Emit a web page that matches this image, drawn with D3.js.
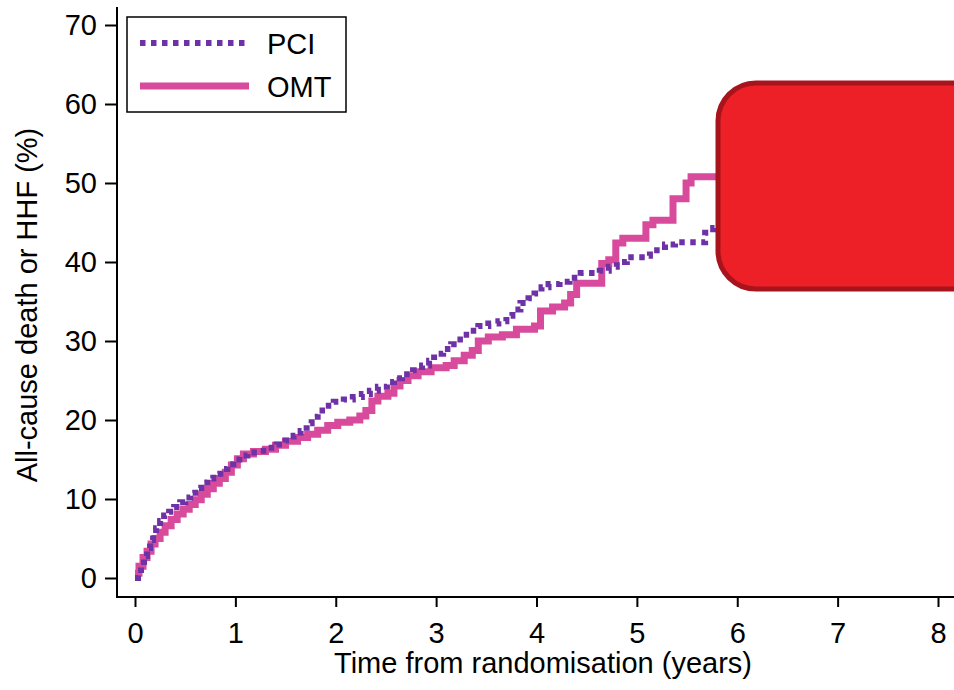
<!DOCTYPE html>
<html lang="en">
<head>
<meta charset="UTF-8">
<title>All-cause death or HHF</title>
<script src="https://d3js.org/d3.v7.min.js"></script>
<style>
    body { margin: 0; background: #fff; }
    svg { display: block; font-family: "Liberation Sans", Arial, sans-serif; }
    .axis text { font-size: 29px; fill: #000; }
    .axis line { stroke: #000; stroke-width: 2px; }
    .axis path { display: none; }
    .axis-title { font-size: 29px; fill: #000; }
    .legend-text { font-size: 29px; fill: #000; }
</style>
</head>
<body>
<script>
// Kaplan-Meier style cumulative incidence
var pciTime = [0, 0.03, 0.06, 0.09, 0.12, 0.15, 0.18, 0.21, 0.25, 0.29, 0.34, 0.39, 0.45, 0.50, 0.55, 0.60,
    0.66, 0.72, 0.78, 0.85, 0.92, 0.98, 1.04, 1.12, 1.22, 1.32, 1.41, 1.50, 1.58, 1.65, 1.71, 1.76, 1.82,
    1.90, 1.98, 2.08, 2.17, 2.26, 2.34, 2.42, 2.51, 2.58, 2.66, 2.77, 2.86, 2.93, 2.98, 3.07, 3.15, 3.21,
    3.27, 3.33, 3.42, 3.52, 3.62, 3.70, 3.76, 3.84, 3.92, 3.98, 4.05, 4.12, 4.23, 4.33, 4.44, 4.63, 4.72,
    4.80, 4.90, 5.08, 5.13, 5.28, 5.38, 5.68, 5.76, 6.00];
var pciValue = [0, 0.5, 1.5, 2.8, 3.8, 4.8, 5.6, 6.3, 7.2, 7.9, 8.4, 9.0, 9.6, 10.2, 10.8, 11.4,
    12.1, 12.6, 13.2, 13.8, 14.4, 15.0, 15.5, 15.9, 16.1, 16.5, 16.9, 17.4, 18.0, 18.6, 19.6, 20.4, 21.2,
    21.8, 22.3, 22.6, 22.9, 23.3, 23.7, 24.2, 24.8, 25.3, 25.8, 26.3, 26.9, 27.5, 28.4, 29.0, 29.6, 30.2,
    30.8, 31.3, 31.9, 32.2, 32.5, 33.2, 34.0, 34.8, 35.4, 36.0, 36.8, 37.2, 37.5, 38.0, 38.6, 38.9, 39.4,
    40.0, 40.6, 40.8, 41.5, 42.2, 42.5, 43.7, 44.3, 44.8];

var omtTime = [0, 0.04, 0.08, 0.12, 0.16, 0.20, 0.25, 0.30, 0.36, 0.42, 0.48, 0.54, 0.60, 0.66, 0.72,
    0.78, 0.84, 0.90, 0.96, 1.02, 1.08, 1.18, 1.30, 1.40, 1.50, 1.62, 1.72, 1.82, 1.92, 2.02, 2.14, 2.24,
    2.30, 2.36, 2.42, 2.52, 2.58, 2.64, 2.72, 2.82, 2.95, 3.10, 3.18, 3.28, 3.36, 3.42, 3.52, 3.66, 3.80,
    3.98, 4.04, 4.16, 4.28, 4.34, 4.40, 4.65, 4.72, 4.79, 4.86, 5.09, 5.16, 5.36, 5.49, 5.54, 5.85];
var omtValue = [0.6, 1.5, 2.6, 3.4, 4.3, 5.0, 5.8, 6.6, 7.4, 8.1, 8.7, 9.3, 9.9, 10.6, 11.3,
    12.0, 12.6, 13.4, 14.3, 15.1, 15.7, 16.0, 16.3, 16.8, 17.3, 17.8, 18.2, 18.7, 19.3, 19.7, 20.0, 20.5,
    21.2, 22.4, 23.0, 23.4, 24.3, 25.0, 25.6, 26.1, 26.6, 26.9, 27.5, 28.2, 28.8, 30.0, 30.5, 30.8, 31.5,
    31.9, 33.8, 34.3, 34.8, 35.9, 37.3, 39.8, 40.3, 42.4, 43.0, 44.7, 45.3, 48.0, 50.0, 50.8, 50.8];

var xTicks = [0, 1, 2, 3, 4, 5, 6, 7, 8];
var yTicks = [0, 10, 20, 30, 40, 50, 60, 70];
var seriesNames = ["PCI", "OMT"];
var seriesColors = ["#6f32a6", "#d84b9c"];

var width = 954, height = 690;

var svg = d3.select("body").append("svg")
    .attr("width", width)
    .attr("height", height);

var x = d3.scaleLinear().domain([0, 8]).range([135, 938]);
var y = d3.scaleLinear().domain([0, 70]).range([578, 25]);

var axisX = 117, axisY = 597;

// axis lines
svg.append("line")
    .attr("x1", axisX).attr("x2", axisX)
    .attr("y1", y(70) - 18).attr("y2", axisY + 1)
    .attr("stroke", "#000").attr("stroke-width", 2);
svg.append("line")
    .attr("x1", axisX - 1).attr("x2", width)
    .attr("y1", axisY).attr("y2", axisY)
    .attr("stroke", "#000").attr("stroke-width", 2);

svg.append("g")
    .attr("class", "axis")
    .attr("transform", "translate(" + axisX + ",0)")
    .call(d3.axisLeft(y).tickValues(yTicks).tickSize(12).tickPadding(8).tickSizeOuter(0));

svg.append("g")
    .attr("class", "axis")
    .attr("transform", "translate(0," + axisY + ")")
    .call(d3.axisBottom(x).tickValues(xTicks).tickSize(10).tickPadding(15).tickSizeOuter(0));

// curves
var line = d3.line()
    .x(function(d) { return x(d[0]); })
    .y(function(d) { return y(d[1]); })
    .curve(d3.curveStepAfter);

var pciData = d3.zip(pciTime, pciValue);
var omtData = d3.zip(omtTime, omtValue);

svg.append("path")
    .datum(omtData)
    .attr("fill", "none")
    .attr("stroke", seriesColors[1])
    .attr("stroke-width", 7)
    .attr("d", line);

svg.append("path")
    .datum(pciData)
    .attr("fill", "none")
    .attr("stroke", seriesColors[0])
    .attr("stroke-width", 6)
    .attr("stroke-dasharray", "5.5,5.5")
    .attr("d", line);

// legend
var legend = svg.append("g").attr("transform", "translate(127,17)");
legend.append("rect")
    .attr("width", 219).attr("height", 95)
    .attr("fill", "#fff").attr("stroke", "#000").attr("stroke-width", 1.5);
seriesNames.forEach(function(name, i) {
    var ly = 26 + i * 43;
    var l = legend.append("line")
        .attr("x1", 13).attr("x2", 122)
        .attr("y1", ly).attr("y2", ly)
        .attr("stroke", seriesColors[i])
        .attr("stroke-width", i === 0 ? 6 : 7);
    if (i === 0) l.attr("stroke-dasharray", "5.5,5.5");
    legend.append("text")
        .attr("class", "legend-text")
        .attr("x", 140).attr("y", ly + 11)
        .text(name);
});

// titles
svg.append("text")
    .attr("class", "axis-title")
    .attr("text-anchor", "middle")
    .attr("x", 543).attr("y", 673)
    .text("Time from randomisation (years)");

svg.append("text")
    .attr("class", "axis-title")
    .attr("text-anchor", "middle")
    .attr("transform", "translate(37,305) rotate(-90)")
    .text("All-cause death or HHF (%)");

// red overlay box
svg.append("rect")
    .attr("x", 718).attr("y", 83)
    .attr("width", 300).attr("height", 206)
    .attr("rx", 38).attr("ry", 38)
    .attr("fill", "#ed1f27")
    .attr("stroke", "#a8141c")
    .attr("stroke-width", 5);
</script>
</body>
</html>
